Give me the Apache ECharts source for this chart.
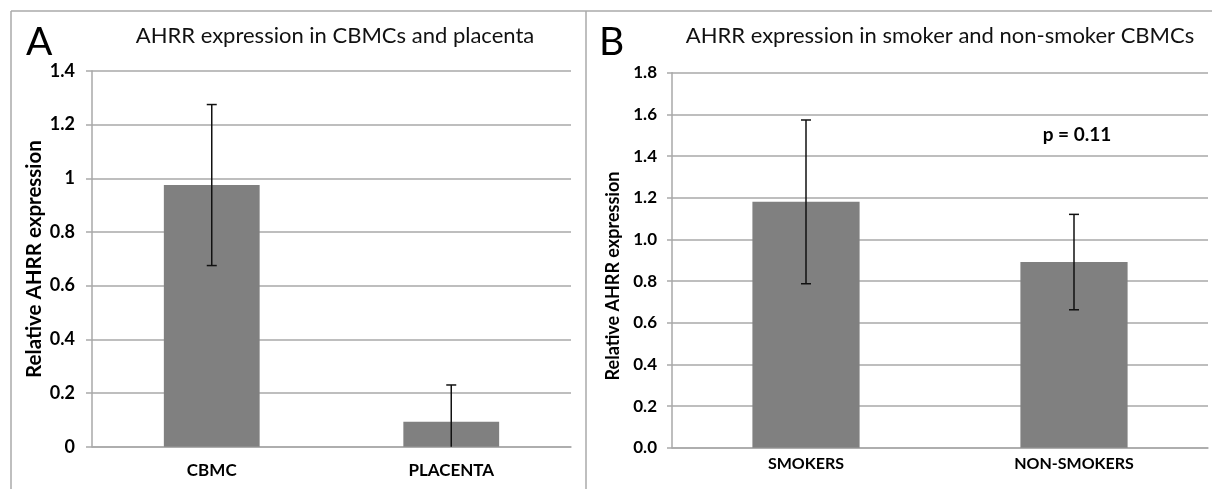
<!DOCTYPE html>
<html>
<head>
<meta charset="utf-8">
<script src="https://cdn.jsdelivr.net/npm/echarts@6/dist/echarts.min.js"></script>
<style>
  html, body { margin: 0; padding: 0; background: #fff; }
  #chart { width: 1212px; height: 489px; }
</style>
</head>
<body>
<div id="chart"></div>
<script>
// panel A - CBMC vs placenta
var catsA = ['CBMC', 'PLACENTA']
var valsA = [0.975, 0.093]
var errA = [0.30, 0.137]
var ticksA = { min: 0, max: 1.4, interval: 0.2 }

// panel B - smokers vs non-smokers
var catsB = ['SMOKERS', 'NON-SMOKERS']
var valsB = [1.18, 0.891]
var errB = [0.393, 0.229]
var ticksB = { min: 0, max: 1.8, interval: 0.2 }

var FONT = 'Lato, "Open Sans", sans-serif'
var GRID_COLOR = '#a9a9a9'

// [index, low, high] for the error bar series, low clipped at 0
function errData(vals, errs) {
  return vals.map(function(v, i) {
    return [i, Math.max(0, v - errs[i]), v + errs[i]]
  })
}

function errRender(params, api) {
  var x = api.value(0)
  var lo = api.coord([x, api.value(1)])
  var hi = api.coord([x, api.value(2)])
  var cap = 5
  var style = { stroke: '#111', lineWidth: 1.5 }
  var children = [
    { type: 'line', shape: { x1: hi[0], y1: hi[1], x2: lo[0], y2: lo[1] }, style: style },
    { type: 'line', shape: { x1: hi[0] - cap, y1: hi[1], x2: hi[0] + cap, y2: hi[1] }, style: style }
  ]
  // no lower cap when the bar is clipped at the axis
  if (api.value(1) > 0) {
    children.push({ type: 'line', shape: { x1: lo[0] - cap, y1: lo[1], x2: lo[0] + cap, y2: lo[1] }, style: style })
  }
  return { type: 'group', children: children }
}

function yAxisFor(ticks, gridIndex, fontSize, fmt, margin, tickLen) {
  return {
    type: 'value',
    gridIndex: gridIndex,
    min: ticks.min,
    max: ticks.max,
    interval: ticks.interval,
    axisLine: { show: true, lineStyle: { color: GRID_COLOR, width: 1.5 } },
    axisTick: { show: true, length: tickLen, lineStyle: { color: GRID_COLOR, width: 1.5 } },
    splitLine: { show: true, lineStyle: { color: GRID_COLOR, width: 1.5 } },
    axisLabel: {
      fontFamily: FONT, fontWeight: 'bold', fontSize: fontSize, color: '#000', margin: margin,
      formatter: fmt
    }
  }
}

function xAxisFor(cats, gridIndex, fontSize, margin) {
  return {
    type: 'category',
    gridIndex: gridIndex,
    data: cats,
    axisLine: { show: true, lineStyle: { color: GRID_COLOR, width: 1.5 } },
    axisTick: { show: false },
    axisLabel: { fontFamily: FONT, fontWeight: 'bold', fontSize: fontSize, color: '#000', margin: margin }
  }
}

var chart = echarts.init(document.getElementById('chart'))

chart.setOption({
  animation: false,
  title: [
    {
      text: 'AHRR expression in CBMCs and placenta',
      left: 335, top: 25, textAlign: 'center', padding: 0,
      textStyle: { fontFamily: FONT, fontWeight: 'normal', fontSize: 22, color: '#111' }
    },
    {
      text: 'AHRR expression in smoker and non-smoker CBMCs',
      left: 940, top: 25, textAlign: 'center', padding: 0,
      textStyle: { fontFamily: FONT, fontWeight: 'normal', fontSize: 22, color: '#111' }
    }
  ],
  grid: [
    { left: 92, right: 641, top: 71, bottom: 42.3 },
    { left: 672, right: 4, top: 72.7, bottom: 41.3 }
  ],
  xAxis: [
    xAxisFor(catsA, 0, 17, 15),
    xAxisFor(catsB, 1, 16, 8)
  ],
  yAxis: [
    yAxisFor(ticksA, 0, 18, function(v) { return String(Math.round(v * 10) / 10) }, 17, 6),
    yAxisFor(ticksB, 1, 17, function(v) { return v.toFixed(1) }, 15, 5)
  ],
  series: [
    {
      type: 'bar', xAxisIndex: 0, yAxisIndex: 0, data: valsA, barWidth: '40%',
      itemStyle: { color: '#808080' }
    },
    {
      type: 'custom', xAxisIndex: 0, yAxisIndex: 0, data: errData(valsA, errA),
      renderItem: errRender, z: 5
    },
    {
      type: 'bar', xAxisIndex: 1, yAxisIndex: 1, data: valsB, barWidth: '40%',
      itemStyle: { color: '#808080' }
    },
    {
      type: 'custom', xAxisIndex: 1, yAxisIndex: 1, data: errData(valsB, errB),
      renderItem: errRender, z: 5
    }
  ],
  graphic: [
    // panel frames
    { type: 'line', shape: { x1: 11, y1: 11, x2: 1212, y2: 11 }, style: { stroke: '#aaa', lineWidth: 1.5 } },
    { type: 'line', shape: { x1: 11, y1: 11, x2: 11, y2: 489 }, style: { stroke: '#aaa', lineWidth: 1.5 } },
    { type: 'line', shape: { x1: 586, y1: 11, x2: 586, y2: 489 }, style: { stroke: '#aaa', lineWidth: 1.5 } },
    // panel letters
    { type: 'text', x: 26, y: 42, style: { text: 'A', fontFamily: FONT, fontSize: 39, fill: '#000', verticalAlign: 'middle' } },
    { type: 'text', x: 599, y: 42, style: { text: 'B', fontFamily: FONT, fontSize: 39, fill: '#000', verticalAlign: 'middle' } },
    // y axis titles
    {
      type: 'text', x: 34, y: 259, rotation: Math.PI / 2,
      style: { text: 'Relative AHRR expression', fontFamily: FONT, fontWeight: 'bold', fontSize: 20.5, fill: '#000', align: 'center', verticalAlign: 'middle' }
    },
    {
      type: 'text', x: 613, y: 276, rotation: Math.PI / 2,
      style: { text: 'Relative AHRR expression', fontFamily: FONT, fontWeight: 'bold', fontSize: 18, fill: '#000', align: 'center', verticalAlign: 'middle' }
    },
    // p value
    { type: 'text', x: 1077, y: 135, style: { text: 'p = 0.11', fontFamily: FONT, fontWeight: 'bold', fontSize: 19, fill: '#000', align: 'center', verticalAlign: 'middle' } }
  ]
})
</script>
</body>
</html>
